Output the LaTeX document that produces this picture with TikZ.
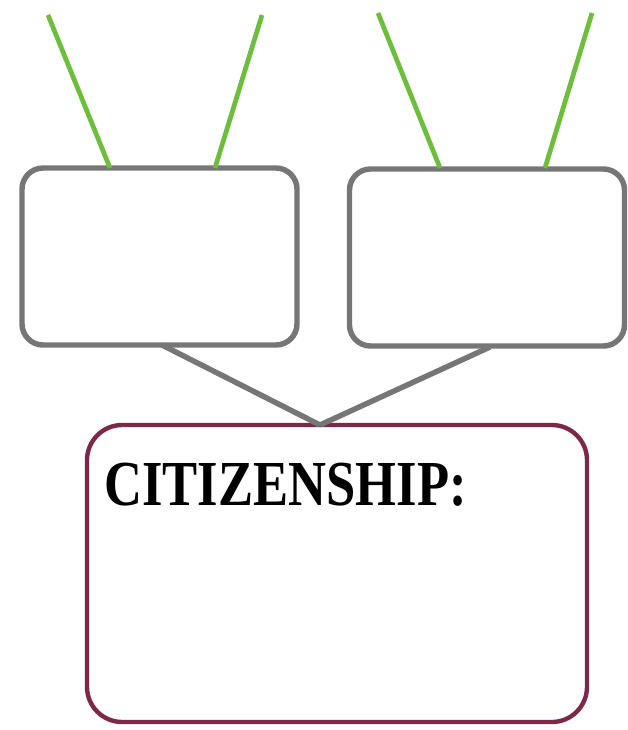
\documentclass[tikz,border=0pt]{standalone}
\usepackage{fontspec}
\setmainfont{Liberation Serif}
\newfontfamily\titlefont[FakeStretch=0.82]{Liberation Serif}
\definecolor{boxgray}{RGB}{118,118,118}
\definecolor{leafgreen}{RGB}{108,190,60}
\definecolor{maroon}{RGB}{125,40,72}
\tikzset{
  smallbox/.style={draw=boxgray, line width=3.1pt, rounded corners=12pt,
    minimum width=275*0.02cm, minimum height=177*0.02cm, inner sep=0pt},
  bigbox/.style={draw=maroon, line width=2.5pt, rounded corners=20pt,
    minimum width=500*0.02cm, minimum height=297*0.02cm, inner sep=0pt},
  twig/.style={leafgreen, line width=2.7pt},
  stem/.style={boxgray, line width=3.1pt},
}
\begin{document}
\begin{tikzpicture}[x=0.02cm, y=-0.02cm]
    \useasboundingbox (0,0) rectangle (627,730);

    % Boxes
    \node[smallbox] (lbox) at (159.5,256.5) {};
    \node[smallbox] (rbox) at (487,257.5) {};
    \node[bigbox] (cit) at (337,573.5) {};
    \node[anchor=base west, font=\titlefont\bfseries\fontsize{36.5}{40}\selectfont, inner sep=0pt]
      (title) at (104,505) {CITIZENSHIP:};

    % Green lines
    \coordinate (lt1) at (48,15);
    \coordinate (lt2) at (262,15);
    \coordinate (rt1) at (378,13);
    \coordinate (rt2) at (592,13);
    \coordinate (lb1) at (110,168);
    \coordinate (lb2) at (215,168);
    \coordinate (rb1) at (440,168);
    \coordinate (rb2) at (545,168);
    \draw[twig] (lt1) -- (lb1);
    \draw[twig] (lt2) -- (lb2);
    \draw[twig] (rt1) -- (rb1);
    \draw[twig] (rt2) -- (rb2);

    % Gray lines
    \coordinate (lfoot) at (162,345);
    \coordinate (rfoot) at (490,347);
    \coordinate (meet) at (320,425);
    \draw[stem] (lfoot) -- (meet);
    \draw[stem] (rfoot) -- (meet);
\end{tikzpicture}
\end{document}
